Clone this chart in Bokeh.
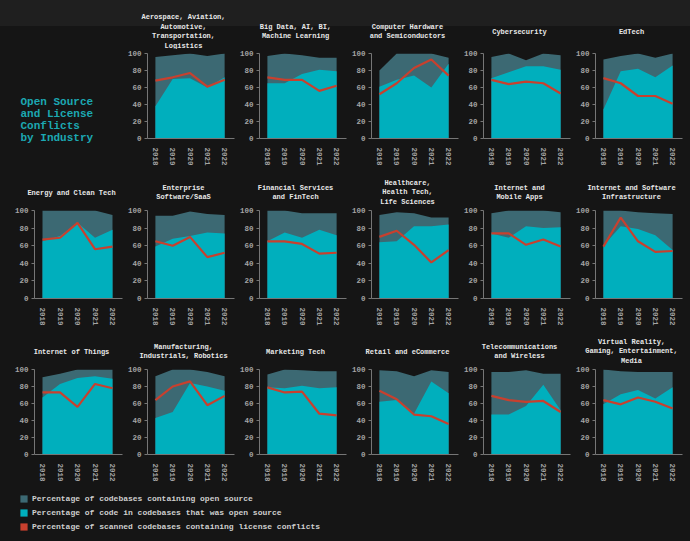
from bokeh.plotting import figure
from bokeh.layouts import row, column
from bokeh.models import Range1d, FixedTicker, Label, Legend, LegendItem
from bokeh.embed import file_html
from bokeh.resources import INLINE

years = [2018, 2019, 2020, 2021, 2022]
y_ticks = [0, 20, 40, 60, 80, 100]

industries = [
    "Aerospace, Aviation,\nAutomotive,\nTransportation,\nLogistics",
    "Big Data, AI, BI,\nMachine Learning",
    "Computer Hardware\nand Semiconductors",
    "Cybersecurity",
    "EdTech",
    "Energy and Clean Tech",
    "Enterprise\nSoftware/SaaS",
    "Financial Services\nand FinTech",
    "Healthcare,\nHealth Tech,\nLife Sciences",
    "Internet and\nMobile Apps",
    "Internet and Software\nInfrastructure",
    "Internet of Things",
    "Manufacturing,\nIndustrials, Robotics",
    "Marketing Tech",
    "Retail and eCommerce",
    "Telecommunications\nand Wireless",
    "Virtual Reality,\nGaming, Entertainment,\nMedia",
]

# Percentage of codebases containing open source
containing_os = [
    [96, 98, 100, 97, 100],
    [97, 100, 98, 95, 95],
    [80, 100, 100, 100, 95],
    [96, 100, 92, 100, 98],
    [93, 97, 100, 95, 100],
    [100, 100, 100, 100, 95],
    [94, 94, 99, 96, 95],
    [100, 100, 97, 97, 97],
    [95, 98, 97, 92, 92],
    [97, 100, 100, 100, 98],
    [100, 100, 98, 97, 96],
    [91, 95, 100, 100, 100],
    [92, 100, 100, 97, 92],
    [94, 100, 99, 98, 98],
    [99, 98, 92, 99, 97],
    [97, 97, 99, 95, 95],
    [100, 98, 97, 97, 97],
]

# Percentage of code in codebases that was open source
code_os = [
    [38, 70, 71, 60, 72],
    [65, 65, 76, 81, 79],
    [61, 69, 74, 60, 88],
    [71, 78, 85, 85, 81],
    [34, 79, 82, 72, 86],
    [65, 71, 86, 69, 78],
    [59, 68, 71, 75, 74],
    [65, 75, 69, 78, 72],
    [64, 65, 82, 82, 84],
    [74, 69, 82, 80, 81],
    [60, 82, 79, 72, 55],
    [67, 83, 90, 92, 89],
    [43, 50, 84, 80, 75],
    [79, 78, 81, 78, 79],
    [62, 64, 48, 86, 72],
    [47, 47, 57, 82, 52],
    [59, 71, 76, 66, 79],
]

# Percentage of scanned codebases containing license conflicts
conflicts = [
    [68, 72, 77, 61, 69],
    [72, 69, 69, 56, 62],
    [52, 65, 83, 93, 74],
    [69, 64, 67, 65, 53],
    [71, 65, 50, 50, 41],
    [67, 69, 86, 56, 59],
    [65, 60, 70, 47, 52],
    [65, 65, 62, 51, 52],
    [70, 77, 61, 41, 55],
    [74, 74, 61, 67, 59],
    [59, 92, 65, 53, 54],
    [73, 73, 56, 83, 78],
    [64, 80, 86, 58, 69],
    [79, 73, 74, 48, 46],
    [75, 65, 47, 45, 36],
    [69, 64, 62, 63, 50],
    [64, 59, 67, 62, 54],
]

legend_labels = [
    "Percentage of codebases containing open source",
    "Percentage of code in codebases that was open source",
    "Percentage of scanned codebases containing license conflicts",
]

DARK = "#3c6973"
CYAN = "#00afbd"
RED = "#c8402e"
AXIS = "#767676"
TICK_TXT = "#a4a4a4"
TITLE_TXT = "#e8e8e8"
FONT = "Liberation Mono"


def blank(width, height, **kw):
    f = figure(width=width, height=height, output_backend="svg", toolbar_location=None,
               x_range=Range1d(0, 1), y_range=Range1d(0, 1), min_border=0, title=None,
               x_axis_location=None, y_axis_location=None, **kw)
    f.border_fill_color = None
    f.background_fill_color = None
    f.outline_line_color = None
    f.grid.visible = False
    return f


def panel(i, width, height, bl, br, bt, bb):
    p = figure(width=width, height=height, output_backend="svg", toolbar_location=None,
               x_range=Range1d(2017.543, 2022.571), y_range=Range1d(0, 100),
               min_border_left=bl, min_border_right=br, min_border_top=bt,
               min_border_bottom=bb, title=None)
    p.border_fill_color = None
    p.background_fill_color = None
    p.outline_line_color = None
    p.grid.visible = False
    p.varea(x=years, y1=0, y2=containing_os[i], fill_color=DARK)
    p.varea(x=years, y1=0, y2=code_os[i], fill_color=CYAN)
    p.line(x=years, y=conflicts[i], line_color=RED, line_width=2.2)

    p.xaxis.ticker = FixedTicker(ticks=years)
    p.yaxis.ticker = FixedTicker(ticks=y_ticks)
    p.xaxis.major_label_orientation = "vertical"
    p.xaxis.major_tick_line_color = None
    p.axis.minor_tick_line_color = None
    p.yaxis.major_tick_in = 0
    p.yaxis.major_tick_out = 3
    p.axis.major_label_standoff = 3
    p.axis.axis_line_color = AXIS
    p.yaxis.major_tick_line_color = AXIS
    p.axis.major_label_text_font = FONT
    p.axis.major_label_text_font_size = "7.5px"
    p.axis.major_label_text_font_style = "bold"
    p.axis.major_label_text_color = TICK_TXT
    return p


def panel_row(indices, first_col, height, bt, bb):
    figs = []
    for k, i in enumerate(indices):
        c = first_col + k
        if c == 0:
            figs.append(panel(i, 124, height, 34, 2, bt, bb))
        elif c == 5:
            figs.append(panel(i, 118, height, 22, 8, bt, bb))
        else:
            figs.append(panel(i, 112, height, 22, 2, bt, bb))
    return figs


def title_strip(indices, first_col, x0, width, height, dy):
    s = blank(width, height)
    for k, i in enumerate(indices):
        c = first_col + k
        s.add_layout(Label(x=71 + 112 * c - x0, y=dy, x_units="screen", y_units="screen",
                           text=industries[i], text_align="center", text_baseline="middle",
                           text_font=FONT, text_font_size="7px", text_font_style="bold",
                           text_color=TITLE_TXT, text_line_height=1.2))
    return s


# Row 1: main title on the left, then five panels
tf = blank(124, 168)
tf.add_layout(Label(x=20, y=48.5, x_units="screen", y_units="screen",
                    text="Open Source\nand License\nConflicts\nby Industry",
                    text_align="left", text_baseline="middle", text_font=FONT,
                    text_font_size="11px", text_font_style="bold", text_color="#1ca8b2",
                    text_line_height=1.0))
strip1 = title_strip([0, 1, 2, 3, 4], 1, 124, 566, 49, 18)
row1 = row(tf, column(strip1, row(*panel_row([0, 1, 2, 3, 4], 1, 119, 4, 28))))

strip2 = title_strip([5, 6, 7, 8, 9, 10], 0, 0, 690, 38, 14)
block2 = column(strip2, row(*panel_row([5, 6, 7, 8, 9, 10], 0, 124, 4, 32)))

strip3 = title_strip([11, 12, 13, 14, 15, 16], 0, 0, 690, 35, 14)
block3 = column(strip3, row(*panel_row([11, 12, 13, 14, 15, 16], 0, 119, 4, 27)))

# Legend
lg = blank(690, 57, min_border_left=9)
rs = [lg.vbar(x=[-1], top=[-1], width=0.1, fill_color=c, line_color=None)
      for c in (DARK, CYAN, RED)]
legend = Legend(items=[LegendItem(label=l, renderers=[r]) for l, r in zip(legend_labels, rs)],
                location="top_left", margin=10, padding=0, spacing=5,
                glyph_width=9, glyph_height=9, label_height=9, label_standoff=4,
                label_text_font=FONT, label_text_font_size="8px",
                label_text_font_style="bold", label_text_color="#cfcfcf",
                label_text_baseline="middle",
                border_line_color=None, background_fill_alpha=0)
lg.add_layout(legend)

p = column(row1, block2, block3, lg)

html = file_html(p, INLINE, title="Open Source and License Conflicts by Industry")
html = html.replace("<head>", "<head><style>html,body{background:#151515 linear-gradient(#1f1f1f,#1f1f1f) no-repeat;background-size:100% 26px;}</style>", 1)
open("out.html", "w").write(html)
